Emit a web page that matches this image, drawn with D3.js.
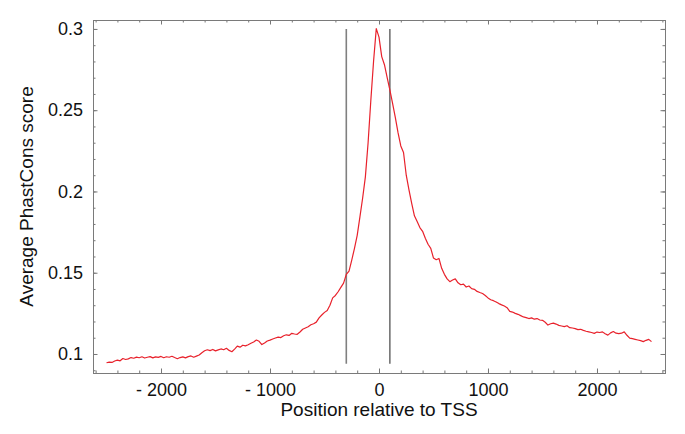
<!DOCTYPE html>
<html>
<head>
<meta charset="utf-8">
<script src="https://cdn.jsdelivr.net/npm/d3@7"></script>
<style>
    html, body { margin: 0; padding: 0; background: #fff; }
    #chart { width: 685px; height: 434px; }
    text { font-family: 'Liberation Sans', Arial, Helvetica, sans-serif; fill: #111; }
</style>
</head>
<body>
<div id="chart"></div>
<script>
// Data (every 25 bp from -2500 to 2500)
const startPos = -2500;
const stepPos = 25;
const scores = [
    0.0946, 0.0950, 0.0948, 0.0957, 0.0962, 0.0958, 0.0972, 0.0966, 0.0970, 0.0978,
    0.0974, 0.0981, 0.0977, 0.0983, 0.0975, 0.0980, 0.0984, 0.0976, 0.0982, 0.0979,
    0.0985, 0.0977, 0.0983, 0.0980, 0.0986, 0.0978, 0.0971, 0.0978, 0.0982, 0.0976,
    0.0984, 0.0988, 0.0980, 0.0987, 0.0994, 0.1008, 0.1020, 0.1026, 0.1021, 0.1028,
    0.1019, 0.1025, 0.1031, 0.1026, 0.1035, 0.1022, 0.1014, 0.1030, 0.1048, 0.1042,
    0.1054, 0.1050, 0.1057, 0.1066, 0.1074, 0.1086, 0.1078, 0.1058, 0.1068, 0.1080,
    0.1085, 0.1092, 0.1098, 0.1104, 0.1101, 0.1112, 0.1118, 0.1114, 0.1127, 0.1123,
    0.1121, 0.1135, 0.1152, 0.1160, 0.1168, 0.1180, 0.1186, 0.1196, 0.1222, 0.1240,
    0.1256, 0.1268, 0.1300, 0.1345, 0.1360, 0.1383, 0.1410, 0.1436, 0.1490, 0.1510,
    0.1578, 0.1650, 0.1730, 0.1844, 0.1960, 0.2090, 0.2300, 0.2560, 0.2800, 0.3002,
    0.2950, 0.2830, 0.2780, 0.2700, 0.2624, 0.2540, 0.2455, 0.2360, 0.2280, 0.2240,
    0.2100, 0.2010, 0.1927, 0.1850, 0.1815, 0.1778, 0.1755, 0.1712, 0.1675, 0.1650,
    0.1590, 0.1580, 0.1588, 0.1527, 0.1490, 0.1462, 0.1445, 0.1455, 0.1462, 0.1438,
    0.1426, 0.1430, 0.1412, 0.1418, 0.1402, 0.1398, 0.1385, 0.1378, 0.1372, 0.1360,
    0.1345, 0.1334, 0.1328, 0.1320, 0.1310, 0.1302, 0.1295, 0.1285, 0.1262, 0.1258,
    0.1250, 0.1244, 0.1236, 0.1228, 0.1224, 0.1218, 0.1222, 0.1214, 0.1218, 0.1209,
    0.1207, 0.1195, 0.1178, 0.1186, 0.1190, 0.1184, 0.1176, 0.1172, 0.1168, 0.1174,
    0.1162, 0.1160, 0.1156, 0.1150, 0.1152, 0.1145, 0.1140, 0.1136, 0.1132, 0.1127,
    0.1135, 0.1132, 0.1136, 0.1124, 0.1116, 0.1130, 0.1138, 0.1128, 0.1125, 0.1128,
    0.1136, 0.1115, 0.1098, 0.1094, 0.1090, 0.1086, 0.1082, 0.1076, 0.1084, 0.1090,
    0.1076
];

// region markers
const markers = [-300, 100];
const markerTop = 0.3;
const markerBottom = 0.094;

// ticks
const xMajorTicks = [-2000, -1000, 0, 1000, 2000];
const yMajorTicks = [0.1, 0.15, 0.2, 0.25, 0.3];

const xTitle = 'Position relative to TSS';
const yTitle = 'Average PhastCons score';

const width = 685;
const height = 434;
const margin = { top: 20, right: 20, bottom: 61, left: 93 };
const innerW = width - margin.left - margin.right;
const innerH = height - margin.top - margin.bottom;

const data = scores.map((v, i) => [startPos + i * stepPos, v]);

const xScale = d3.scaleLinear()
    .domain([-2624, 2624])
    .range([0, innerW]);

const yScale = d3.scaleLinear()
    .domain([0.0883, 0.3055])
    .range([innerH, 0]);

const svg = d3.select('#chart')
    .append('svg')
    .attr('width', width)
    .attr('height', height);

const g = svg.append('g')
    .attr('transform', `translate(${margin.left},${margin.top})`);

const xMinor = d3.range(-2600, 2601, 200);
const yMinor = d3.range(9, 31).map(d => d / 100);

const fmtX = d => d < 0 ? '- ' + Math.abs(d) : String(d);

function styleAxis(sel) {
    sel.select('.domain').remove();
    sel.selectAll('.tick line').attr('stroke', '#777');
    sel.selectAll('text')
        .style('font-size', '18px')
        .style('font-family', "'Liberation Sans', Arial, sans-serif")
        .attr('fill', '#111');
}

// bottom axis
g.append('g')
    .attr('transform', `translate(0,${innerH})`)
    .call(d3.axisBottom(xScale).tickValues(xMinor).tickSizeInner(-2.5).tickSizeOuter(0).tickFormat(''))
    .call(styleAxis);
g.append('g')
    .attr('transform', `translate(0,${innerH})`)
    .call(d3.axisBottom(xScale).tickValues(xMajorTicks).tickSizeInner(-4.5).tickSizeOuter(0).tickPadding(10).tickFormat(fmtX))
    .call(styleAxis);

// top axis (ticks only)
g.append('g')
    .call(d3.axisTop(xScale).tickValues(xMinor).tickSizeInner(-2.5).tickSizeOuter(0).tickFormat(''))
    .call(styleAxis);
g.append('g')
    .call(d3.axisTop(xScale).tickValues(xMajorTicks).tickSizeInner(-4.5).tickSizeOuter(0).tickFormat(''))
    .call(styleAxis);

// left axis
g.append('g')
    .call(d3.axisLeft(yScale).tickValues(yMinor).tickSizeInner(-2.5).tickSizeOuter(0).tickFormat(''))
    .call(styleAxis);
g.append('g')
    .call(d3.axisLeft(yScale).tickValues(yMajorTicks).tickSizeInner(-4.5).tickSizeOuter(0).tickPadding(10).tickFormat(d => String(d)))
    .call(styleAxis);

// right axis (ticks only)
g.append('g')
    .attr('transform', `translate(${innerW},0)`)
    .call(d3.axisRight(yScale).tickValues(yMinor).tickSizeInner(-2.5).tickSizeOuter(0).tickFormat(''))
    .call(styleAxis);
g.append('g')
    .attr('transform', `translate(${innerW},0)`)
    .call(d3.axisRight(yScale).tickValues(yMajorTicks).tickSizeInner(-4.5).tickSizeOuter(0).tickFormat(''))
    .call(styleAxis);

// frame
g.append('rect')
    .attr('x', 0.5)
    .attr('y', 0.5)
    .attr('width', innerW)
    .attr('height', innerH)
    .attr('fill', 'none')
    .attr('stroke', '#7a7a7a')
    .attr('stroke-width', 1);

// marker lines
g.selectAll('line.marker')
    .data(markers)
    .join('line')
    .attr('class', 'marker')
    .attr('x1', d => xScale(d))
    .attr('x2', d => xScale(d))
    .attr('y1', yScale(markerTop))
    .attr('y2', yScale(markerBottom))
    .attr('stroke', (d, i) => i === 0 ? '#808080' : '#333')
    .attr('stroke-width', (d, i) => i === 0 ? 1.6 : 1.1);

// curve
const line = d3.line()
    .x(d => xScale(d[0]))
    .y(d => yScale(d[1]));

g.append('path')
    .datum(data)
    .attr('fill', 'none')
    .attr('stroke', '#e8212b')
    .attr('stroke-width', 1.2)
    .attr('stroke-linejoin', 'round')
    .attr('d', line);

// axis titles
svg.append('text')
    .attr('x', margin.left + xScale(0))
    .attr('y', 416)
    .attr('text-anchor', 'middle')
    .style('font-size', '19px')
    .text(xTitle);

svg.append('text')
    .attr('transform', `translate(33,${margin.top + innerH / 2}) rotate(-90)`)
    .attr('text-anchor', 'middle')
    .style('font-size', '19px')
    .text(yTitle);
</script>
</body>
</html>
